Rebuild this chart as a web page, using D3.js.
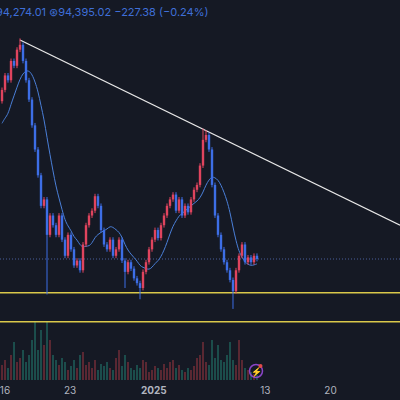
<!DOCTYPE html><html><head><meta charset="utf-8"><script src="https://cdn.jsdelivr.net/npm/d3@7"></script>
<style>body{margin:0;background:#151924}svg{display:block}</style></head><body><svg id="c" width="400" height="400"></svg><script>
const closes=[104.9,105.8,105.5,106.7,106.4,107.4,107.7,106.7,105.5,104.3,102.7,101.2,99.6,97.7,98.1,95.9,97.1,96.5,95.9,97.1,95.6,94.6,95.9,95.0,94.0,94.3,93.7,95.3,96.5,97.1,97.4,98.3,97.7,96.2,95.3,95.0,95.6,94.6,95.0,95.6,94.3,93.6,94.2,93.8,93.2,92.9,92.6,93.6,94.2,95.0,95.6,96.2,95.7,96.5,97.1,97.7,98.1,98.4,97.4,98.1,97.1,97.7,97.3,98.1,98.7,99.0,100.2,101.8,102.1,101.2,99.0,97.1,95.9,95.0,94.2,93.7,93.1,92.4,93.7,94.6,95.3,94.2,94.5,94.2,94.6,94.4];
const firstOpen=104.2;
const priorCloses=[100.5,101.2,102.0,102.6,103.3,103.9,104.2];
const spikes=[{i:6,high:108.1},{i:15,low:92.2},{i:46,low:91.9},{i:67,high:102.5},{i:68,high:102.4},{i:77,low:91.3},{i:41,low:92.6}];
const volumes=[15,20,12,25,38,18,22,30,18,25,40,58,30,50,35,58,40,25,20,15,22,18,10,14,20,12,25,28,15,18,12,20,10,16,14,18,12,10,22,30,14,25,18,12,10,15,12,20,18,8,10,14,12,10,16,12,18,20,12,15,10,8,12,10,14,22,25,38,18,15,40,22,35,20,18,25,38,20,15,40,20,12,10,8,6,5];
const trend=[{i:6,p:108.0},{i:132.7,p:96.5}];
const levels=[92.3,90.5];
const lastPrice=94.4;
const tickLabels=[{d:"2024-12-16",t:"16"},{d:"2024-12-23",t:"23"},{d:"2025-01-01",t:"2025",b:true},{d:"2025-01-13",t:"13"},{d:"2025-01-20",t:"20"}];

const svg=d3.select("#c");
svg.append("rect").attr("width",400).attr("height",400).attr("fill","#151924");
const x=d3.scaleLinear().domain([-0.67,132.67]).range([0,400]);
const y=d3.scaleLinear().domain([94.4,108.0]).range([259,40]);
const day=86400000,t0=new Date("2024-12-16T00:00:00");
const xt=d3.scaleTime().domain([new Date(+t0-5/9.3*day),new Date(+t0+395/9.3*day)]).range([0,400]);
const vy=d3.scaleLinear().domain([0,58]).range([380,322]);

const data=closes.map((c,i)=>{const o=i?closes[i-1]:firstOpen;let h=Math.max(o,c)+0.15,l=Math.min(o,c)-0.15;
 spikes.filter(s=>s.i===i).forEach(s=>{if(s.high)h=s.high;if(s.low)l=s.low;});return{i,o,c,h,l,v:volumes[i]||5};});

svg.append("g").selectAll("rect").data(data).join("rect")
 .attr("x",d=>x(d.i)-0.9).attr("width",1.8).attr("y",d=>vy(d.v)).attr("height",d=>380-vy(d.v))
 .attr("fill",d=>d.c>=d.o?"#6a2c36":"#1e5a55").attr("opacity",0.9);
levels.forEach(p=>{svg.append("line").attr("x1",0).attr("x2",400).attr("y1",y(p)).attr("y2",y(p)).attr("stroke","#d9c84a").attr("stroke-width",1.6);});
svg.append("line").attr("x1",0).attr("x2",400).attr("y1",y(lastPrice)).attr("y2",y(lastPrice)).attr("stroke","#4a5f9a").attr("stroke-dasharray","1,2");
svg.append("line").attr("x1",x(trend[0].i)).attr("y1",y(trend[0].p)).attr("x2",x(trend[1].i)).attr("y2",y(trend[1].p)).attr("stroke","#e8e8e8").attr("stroke-width",1.3);
const all=priorCloses.concat(closes),off=priorCloses.length,W=10;
const ma=data.map((d,i)=>{const k=i+off;const s=all.slice(Math.max(0,k-W+1),k+1);return{i,v:d3.mean(s)};});
svg.append("path").datum(ma).attr("fill","none").attr("stroke","#4a7fd8").attr("stroke-width",1)
 .attr("d",d3.line().x(d=>x(d.i)).y(d=>y(d.v)).curve(d3.curveBasis));
const g=svg.append("g");
const col=d=>d.c>=d.o?"#e0445e":"#3d6ee6";
g.selectAll("line").data(data).join("line").attr("x1",d=>x(d.i)).attr("x2",d=>x(d.i)).attr("y1",d=>y(d.h)).attr("y2",d=>y(d.l)).attr("stroke",col);
g.selectAll("rect").data(data).join("rect").attr("x",d=>x(d.i)-1.2).attr("width",2.4)
 .attr("y",d=>y(Math.max(d.o,d.c))).attr("height",d=>Math.max(1,Math.abs(y(d.o)-y(d.c)))).attr("fill",col);
svg.append("text").attr("x",-4).attr("y",16).attr("fill","#3f6fd8").attr("font-family","Inter,sans-serif").attr("font-size",11)
 .text("94,274.01  \u229B94,395.02   \u2212227.38 (\u22120.24%)");
svg.append("g").selectAll("text").data(tickLabels).join("text").attr("x",d=>xt(new Date(d.d+"T00:00:00"))).attr("y",394)
 .attr("text-anchor","middle").attr("fill","#b0b4bf").attr("font-family","Inter,sans-serif").attr("font-size",10)
 .attr("font-weight",d=>d.b?"bold":"normal").text(d=>d.t);
svg.append("circle").attr("cx",256).attr("cy",371).attr("r",6.5).attr("fill","none").attr("stroke","#8a45c8").attr("stroke-width",1.5);
svg.append("text").attr("x",256).attr("y",375).attr("text-anchor","middle").attr("fill","#a060e0").attr("font-size",9).text("\u26A1");
svg.append("circle").attr("cx",260.5).attr("cy",366).attr("r",2).attr("fill","#e04a4a");
</script></body></html>
